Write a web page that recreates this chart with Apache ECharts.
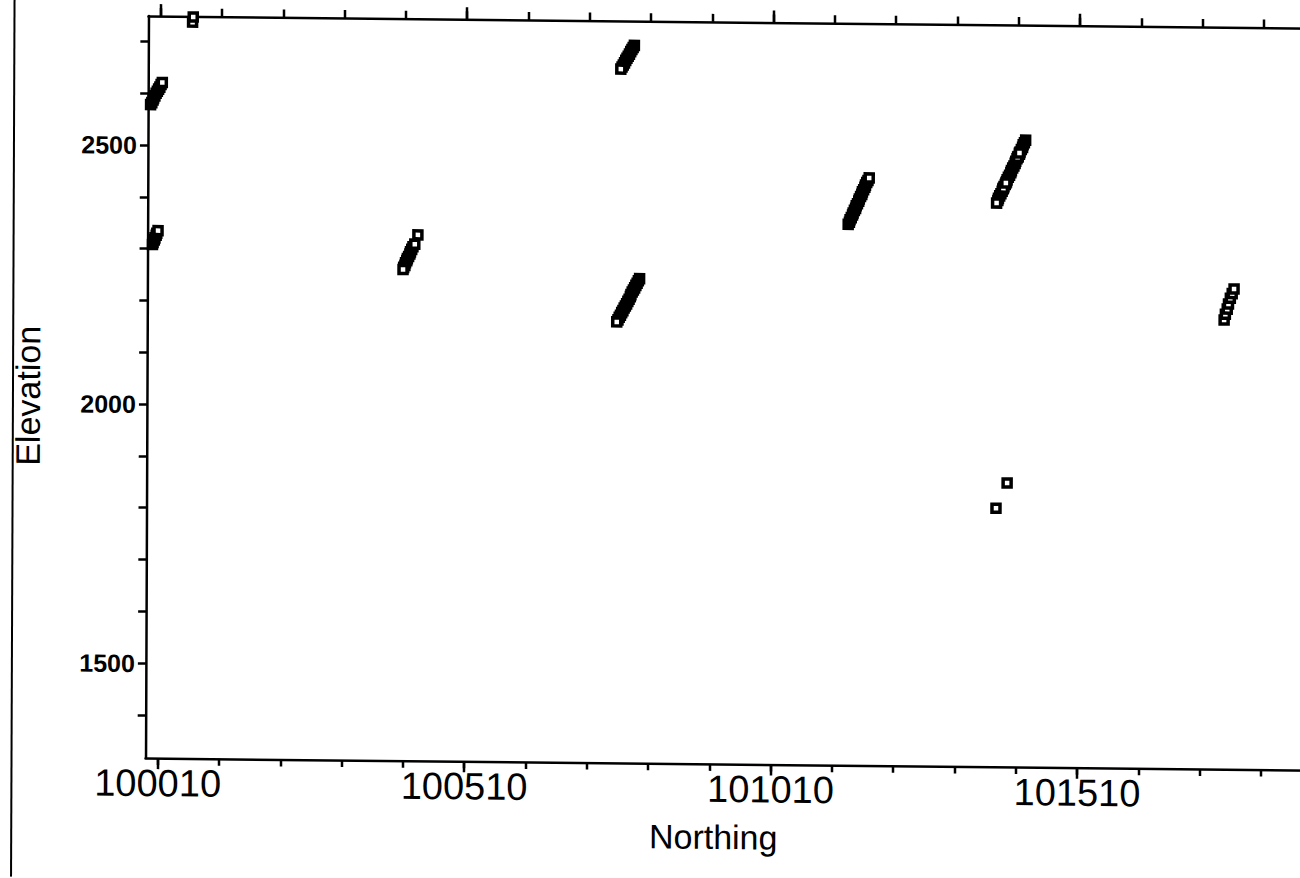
<!DOCTYPE html>
<html>
<head>
<meta charset="utf-8">
<title>Elevation vs Northing</title>
<script src="https://cdn.jsdelivr.net/npm/echarts@6.0.0/dist/echarts.min.js"></script>
<style>
  html, body { margin: 0; padding: 0; background: #fff; overflow: hidden; }
  #chart {
    position: absolute; left: 0; top: 0;
    width: 1400px; height: 878px;
    /* the printed sheet sits slightly askew */
    transform-origin: 147px 387px;
    transform: matrix(1, 0.0104, -0.004, 1, 0, 0);
  }
</style>
</head>
<body>
<div id="chart"></div>
<script>
// Axis extents and tick positions
const NORTHING_MIN = 99990;
const NORTHING_MAX = 102010;
const ELEVATION_MIN = 1317;
const ELEVATION_MAX = 2749;
const NORTHING_TICKS = [100010, 100110, 100210, 100310, 100410, 100510, 100610, 100710, 100810, 100910,
                        101010, 101110, 101210, 101310, 101410, 101510, 101610, 101710, 101810, 101910];
const NORTHING_MAJOR = [100010, 100510, 101010, 101510];
const NORTHING_LABELS = [100010, 100510, 101010, 101510];
const ELEVATION_TICKS = [1400, 1500, 1600, 1700, 1800, 1900, 2000, 2100, 2200, 2300, 2400, 2500, 2600, 2700];
const ELEVATION_LABELS = [1500, 2000, 2500];

// Survey points: [northing, elevation]
const line100000a = [[99994, 2578], [99996, 2582], [99998, 2587], [99999, 2591], [100001, 2595], [100003, 2600],
                     [100005, 2604], [100007, 2608], [100009, 2612], [100011, 2617], [100013, 2621]];
const line100000b = [[99998, 2308], [99999, 2312], [100001, 2317], [100002, 2321], [100004, 2326], [100005, 2330], [100007, 2335]];
const pair100060 = [[100062, 2738], [100063, 2748]];
const line100420 = [[100416, 2290], [100418, 2295], [100419, 2299], [100421, 2304], [100423, 2309], [100426, 2314], [100431, 2332],
                    [100414, 2286], [100413, 2282], [100411, 2278], [100410, 2273], [100408, 2269], [100407, 2265]];
const line100770 = [[100783, 2702], [100781, 2698], [100779, 2694], [100777, 2690], [100775, 2685], [100773, 2681],
                    [100771, 2677], [100769, 2673], [100767, 2668], [100765, 2664], [100763, 2660], [100761, 2656]];
const line100775 = [[100793, 2252], [100791, 2248], [100789, 2243], [100787, 2239], [100785, 2234], [100783, 2230],
                    [100781, 2226], [100779, 2221], [100778, 2217], [100776, 2212], [100774, 2208], [100772, 2203],
                    [100770, 2199], [100768, 2195], [100766, 2190], [100764, 2186], [100762, 2181], [100760, 2177],
                    [100758, 2172], [100756, 2168]];
const line101150 = [[101133, 2361], [101135, 2365], [101136, 2370], [101138, 2374], [101140, 2379], [101141, 2383],
                    [101143, 2388], [101145, 2392], [101146, 2397], [101148, 2401], [101150, 2406], [101151, 2410],
                    [101153, 2415], [101155, 2419], [101156, 2424], [101158, 2428], [101160, 2433], [101161, 2437],
                    [101163, 2442], [101165, 2446], [101167, 2451]];
const line101400 = [[101422, 2527], [101420, 2522], [101418, 2518], [101417, 2513], [101415, 2509], [101413, 2504],
                    [101412, 2500], [101410, 2495], [101408, 2491], [101406, 2486], [101405, 2482], [101403, 2477],
                    [101401, 2473], [101399, 2468], [101398, 2464], [101396, 2459], [101394, 2455], [101392, 2450],
                    [101391, 2446], [101389, 2441], [101387, 2437], [101385, 2432], [101384, 2428], [101382, 2423],
                    [101380, 2419], [101378, 2414], [101377, 2410], [101375, 2405],
                    [101386, 2434], [101390, 2444], [101409, 2494], [101412, 2502]];
const pair101385 = [[101376, 1816], [101394, 1865]];
const line101755 = [[101747, 2184], [101749, 2195], [101752, 2205], [101754, 2215], [101757, 2226], [101760, 2235], [101763, 2244]];

const GROUPS = [line100000a, line100000b, pair100060, line100420, line100770, line100775,
                line101150, line101400, pair101385, line101755];

const INK = '#000';
const FONT = '"Liberation Sans", Arial, sans-serif';

function northingAxis(position, ticks, tickLen, withLine, withLabels) {
  return {
    type: 'value',
    position: position,
    min: NORTHING_MIN,
    max: NORTHING_MAX,
    axisLine: { show: withLine, onZero: false, lineStyle: { color: INK, width: 2.5 } },
    axisTick: { show: true, inside: false, customValues: ticks, length: tickLen,
                lineStyle: { color: INK, width: 2.5 } },
    axisLabel: withLabels ? {
      show: true, customValues: NORTHING_LABELS, margin: 6,
      color: INK, fontFamily: FONT, fontSize: 38,
      formatter: v => String(v)
    } : { show: false },
    splitLine: { show: false }
  };
}

const chart = echarts.init(document.getElementById('chart'), null, { renderer: 'svg' });

chart.setOption({
  animation: false,
  backgroundColor: '#fff',
  grid: { left: 147, top: 16, right: 15, bottom: 120, containLabel: false, outerBoundsMode: 'none' },
  xAxis: [
    northingAxis('bottom', NORTHING_TICKS, 7, true, true),
    northingAxis('bottom', NORTHING_MAJOR, 11, false, false),
    northingAxis('top', NORTHING_TICKS, 8, true, false),
    northingAxis('top', NORTHING_MAJOR, 12, false, false)
  ],
  yAxis: {
    type: 'value',
    position: 'left',
    min: ELEVATION_MIN,
    max: ELEVATION_MAX,
    axisLine: { show: true, onZero: false, lineStyle: { color: INK, width: 2.5 } },
    axisTick: { show: true, inside: false, customValues: ELEVATION_TICKS, length: 8,
                lineStyle: { color: INK, width: 2.5 } },
    axisLabel: { show: true, customValues: ELEVATION_LABELS, margin: 11,
                 color: INK, fontFamily: FONT, fontSize: 25, fontWeight: 'bold',
                 formatter: v => String(v) },
    splitLine: { show: false }
  },
  graphic: [
    { type: 'line', shape: { x1: 13, y1: -20, x2: 13, y2: 900 },
      style: { stroke: INK, lineWidth: 2 } },
    { type: 'text', x: 715, y: 831,
      style: { text: 'Northing', fill: INK, font: '34px ' + FONT,
               textAlign: 'center', textVerticalAlign: 'middle' } },
    { type: 'text', x: 28, y: 397, rotation: Math.PI / 2,
      style: { text: 'Elevation', fill: INK, font: '34px ' + FONT,
               textAlign: 'center', textVerticalAlign: 'middle' } }
  ],
  series: GROUPS.map(pts => ({
    type: 'scatter',
    xAxisIndex: 0,
    yAxisIndex: 0,
    clip: false,
    symbol: 'rect',
    symbolSize: 8,
    silent: true,
    itemStyle: { color: '#fff', borderColor: INK, borderWidth: 3.5, opacity: 1 },
    data: pts
  }))
});
</script>
</body>
</html>
